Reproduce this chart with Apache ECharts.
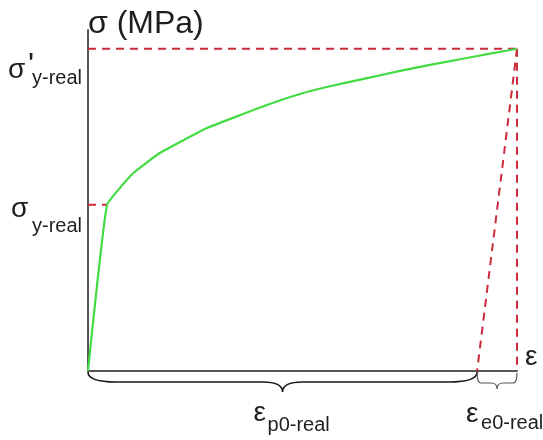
<!DOCTYPE html>
<html>
<head>
<meta charset="utf-8">
<script src="https://cdn.jsdelivr.net/npm/echarts@6/dist/echarts.min.js"></script>
<style>
  html, body { margin: 0; padding: 0; background: #fff; }
  #chart { width: 543px; height: 440px; }
</style>
</head>
<body>
<div id="chart"></div>
<script>
// True stress–strain curve (schematic), strain in mm/mm, stress in MPa
const strain = [0, 0.0089, 0.021, 0.0336, 0.0555, 0.0834, 0.0988, 0.1128, 0.1291, 0.1455, 0.1594, 0.1734, 0.1874, 0.2];
const stress = [0, 195, 232, 256, 285, 312, 325, 334, 343, 352, 359, 365.7, 372.2, 378];

// Key points
const yieldStrain = 0.0089;
const yieldStress = 195;      // σ y-real
const peakStrain = 0.2;
const peakStress = 378;       // σ' y-real
const plasticStrain = 0.1814; // ε p0-real, where elastic unloading reaches zero stress

// Axis extents
const strainMax = 0.2;
const stressMax = 400;

// Axis names
const stressAxisName = 'σ (MPa)';
const strainAxisName = 'ε';

const FONT = '"Liberation Sans", Arial, sans-serif';
const TEXT_COLOR = '#1e1e1e';
const RED = '#cc2a3c';
const GREEN = '#42dc42';

const curveData = strain.map((x, i) => [x, stress[i]]);

function dashed(points) {
  return {
    type: 'line',
    data: points,
    symbol: 'none',
    silent: true,
    lineStyle: { color: RED, width: 2, type: [8, 6] },
    z: 2
  };
}

// Curly brace below the strain axis between two pixel x positions
function bracePath(x1, x2, y0, depth, tip, rEnd, rTip) {
  const xm = (x1 + x2) / 2;
  const yd = y0 + depth;
  const yt = y0 + tip;
  return [
    `M${x1} ${y0}`,
    `Q${x1} ${yd} ${x1 + rEnd} ${yd}`,
    `L${xm - rTip} ${yd}`,
    `Q${xm} ${yd} ${xm} ${yt}`,
    `Q${xm} ${yd} ${xm + rTip} ${yd}`,
    `L${x2 - rEnd} ${yd}`,
    `Q${x2} ${yd} ${x2} ${y0}`
  ].join(' ');
}

function txt(x, y, text, size) {
  return {
    type: 'text',
    x: x,
    y: y,
    style: {
      text: text,
      fontSize: size,
      fontFamily: FONT,
      fill: TEXT_COLOR,
      align: 'left',
      verticalAlign: 'middle'
    }
  };
}

// Brace spans: plastic part and elastic part of the total strain
const braceSpans = [
  [0, plasticStrain],
  [plasticStrain, peakStrain]
];

const chart = echarts.init(document.getElementById('chart'), null, { renderer: 'canvas' });

chart.setOption({
  animation: false,
  backgroundColor: '#ffffff',
  grid: { left: 88, right: 26, top: 30, bottom: 69 },
  xAxis: {
    type: 'value',
    min: 0,
    max: strainMax,
    axisLine: { show: true, lineStyle: { color: '#555', width: 2 } },
    axisTick: { show: false },
    axisLabel: { show: false },
    splitLine: { show: false }
  },
  yAxis: {
    type: 'value',
    min: 0,
    max: stressMax,
    name: stressAxisName,
    nameLocation: 'end',
    nameGap: 6,
    nameTextStyle: {
      fontSize: 32, fontFamily: FONT, color: TEXT_COLOR,
      align: 'left', verticalAlign: 'middle'
    },
    axisLine: { show: true, lineStyle: { color: '#555', width: 2 } },
    axisTick: { show: false },
    axisLabel: { show: false },
    splitLine: { show: false }
  },
  series: [
    dashed([[0, yieldStress], [yieldStrain, yieldStress]]),
    dashed([[0, peakStress], [peakStrain, peakStress]]),
    dashed([[peakStrain, peakStress], [peakStrain, 0]]),
    dashed([[peakStrain, peakStress], [plasticStrain, 0]]),
    {
      type: 'line',
      data: curveData,
      symbol: 'none',
      smooth: 0.1,
      silent: true,
      lineStyle: { color: GREEN, width: 2.2 },
      z: 3
    },
    {
      // Braces marking plastic and elastic strain, with their labels
      type: 'custom',
      silent: true,
      data: braceSpans,
      z: 4,
      renderItem: function (params, api) {
        const p1 = api.coord([api.value(0), 0]);
        const p2 = api.coord([api.value(1), 0]);
        const big = params.dataIndex === 0;
        const xm = (p1[0] + p2[0]) / 2;
        const y0 = p1[1] + 1;
        const path = big
          ? bracePath(p1[0], p2[0], y0, 10, 20, 28, 20)
          : bracePath(p1[0], p2[0], y0 + 1, 10, 16, 4, 6);
        const children = [{
          type: 'path',
          shape: { pathData: path },
          style: {
            fill: 'none',
            stroke: big ? '#1a1a1a' : '#555',
            lineWidth: big ? 1.6 : 1.2
          }
        }];
        if (big) {
          children.push(txt(xm - 29, p1[1] + 42, 'ε', 28));
          children.push(txt(xm - 15, p1[1] + 54, 'p0-real', 20));
        } else {
          children.push(txt(xm - 31, p1[1] + 43, 'ε', 28));
          children.push(txt(xm - 16, p1[1] + 52, 'e0-real', 20));
        }
        return { type: 'group', children: children };
      }
    },
    {
      // Stress level labels beside the stress axis
      type: 'custom',
      silent: true,
      data: [[0, peakStress], [0, yieldStress]],
      z: 4,
      renderItem: function (params, api) {
        const p = api.coord([api.value(0), api.value(1)]);
        const x = p[0], y = p[1];
        if (params.dataIndex === 0) {
          return {
            type: 'group',
            children: [
              txt(x - 80, y + 22, 'σ', 28),
              txt(x - 60, y + 17, "'", 32),
              txt(x - 56, y + 30, 'y-real', 20)
            ]
          };
        }
        return {
          type: 'group',
          children: [
            txt(x - 77, y + 5, 'σ', 28),
            txt(x - 56, y + 22, 'y-real', 20)
          ]
        };
      }
    },
    {
      // Strain axis name, raised above the axis end
      type: 'custom',
      silent: true,
      data: [[strainMax, 0]],
      z: 4,
      renderItem: function (params, api) {
        const p = api.coord([api.value(0), api.value(1)]);
        return txt(p[0] + 8, p[1] - 14, strainAxisName, 28);
      }
    }
  ]
});
</script>
</body>
</html>
